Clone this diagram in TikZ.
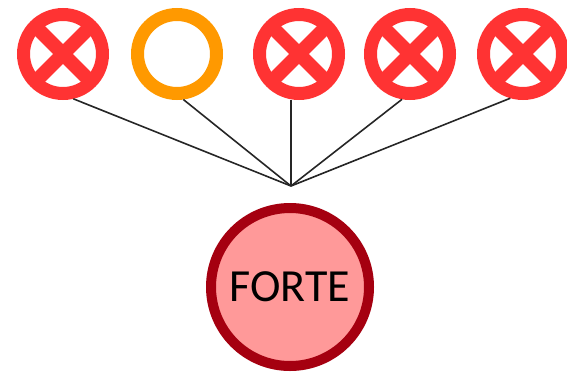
\documentclass[tikz,border=0pt]{standalone}
\usepackage{fontspec}
\setmainfont{Carlito}
\usetikzlibrary{positioning}

\definecolor{xred}{HTML}{FF3333}
\definecolor{okorange}{HTML}{FF9900}
\definecolor{fortefill}{HTML}{FF9999}
\definecolor{fortedraw}{HTML}{A50010}

\begin{document}
\begin{tikzpicture}[%
    x=1pt, y=-1pt,               % work in the pixels of the picture
    node distance=22pt,          % gap between the top circles
    every node/.style={inner sep=0pt},
    ]
% -------------------------------------------------
% Circle styles
\tikzset{
  base/.style={circle, minimum size=79pt, line width=13pt},
  nobox/.style={base, draw=xred, path picture={
      \draw[xred, line width=14pt]
        (path picture bounding box.south west) -- (path picture bounding box.north east)
        (path picture bounding box.north west) -- (path picture bounding box.south east);}},
  okbox/.style={base, draw=okorange},
  strong/.style={circle, minimum size=158pt, line width=10pt,
    draw=fortedraw, fill=fortefill, font=\fontsize{46}{46}\selectfont},
  link/.style={draw=black!85, line width=1.6pt},
}
\useasboundingbox (0,0) rectangle (567,375);
% -------------------------------------------------
% Top row
\node [nobox] (n1) at (63,54) {};
\node [okbox, right = of n1] (n2) {};
\node [nobox, right = 30pt of n2] (n3) {};
\node [nobox, right = 19pt of n3] (n4) {};
\node [nobox, right = 21pt of n4] (n5) {};

% Meeting point and result
\coordinate (hub) at (291,186);
\node [strong] (forte) at (290,287) {FORTE};

% -------------------------------------------------
\draw [link] (hub) -- (n1.-77);
\draw [link] (hub) -- (n2.-82);
\draw [link] (hub) -- (hub |- n3.south);
\draw [link] (hub) -- (n4.-100);
\draw [link] (hub) -- (n5.-106);

\end{tikzpicture}
\end{document}
